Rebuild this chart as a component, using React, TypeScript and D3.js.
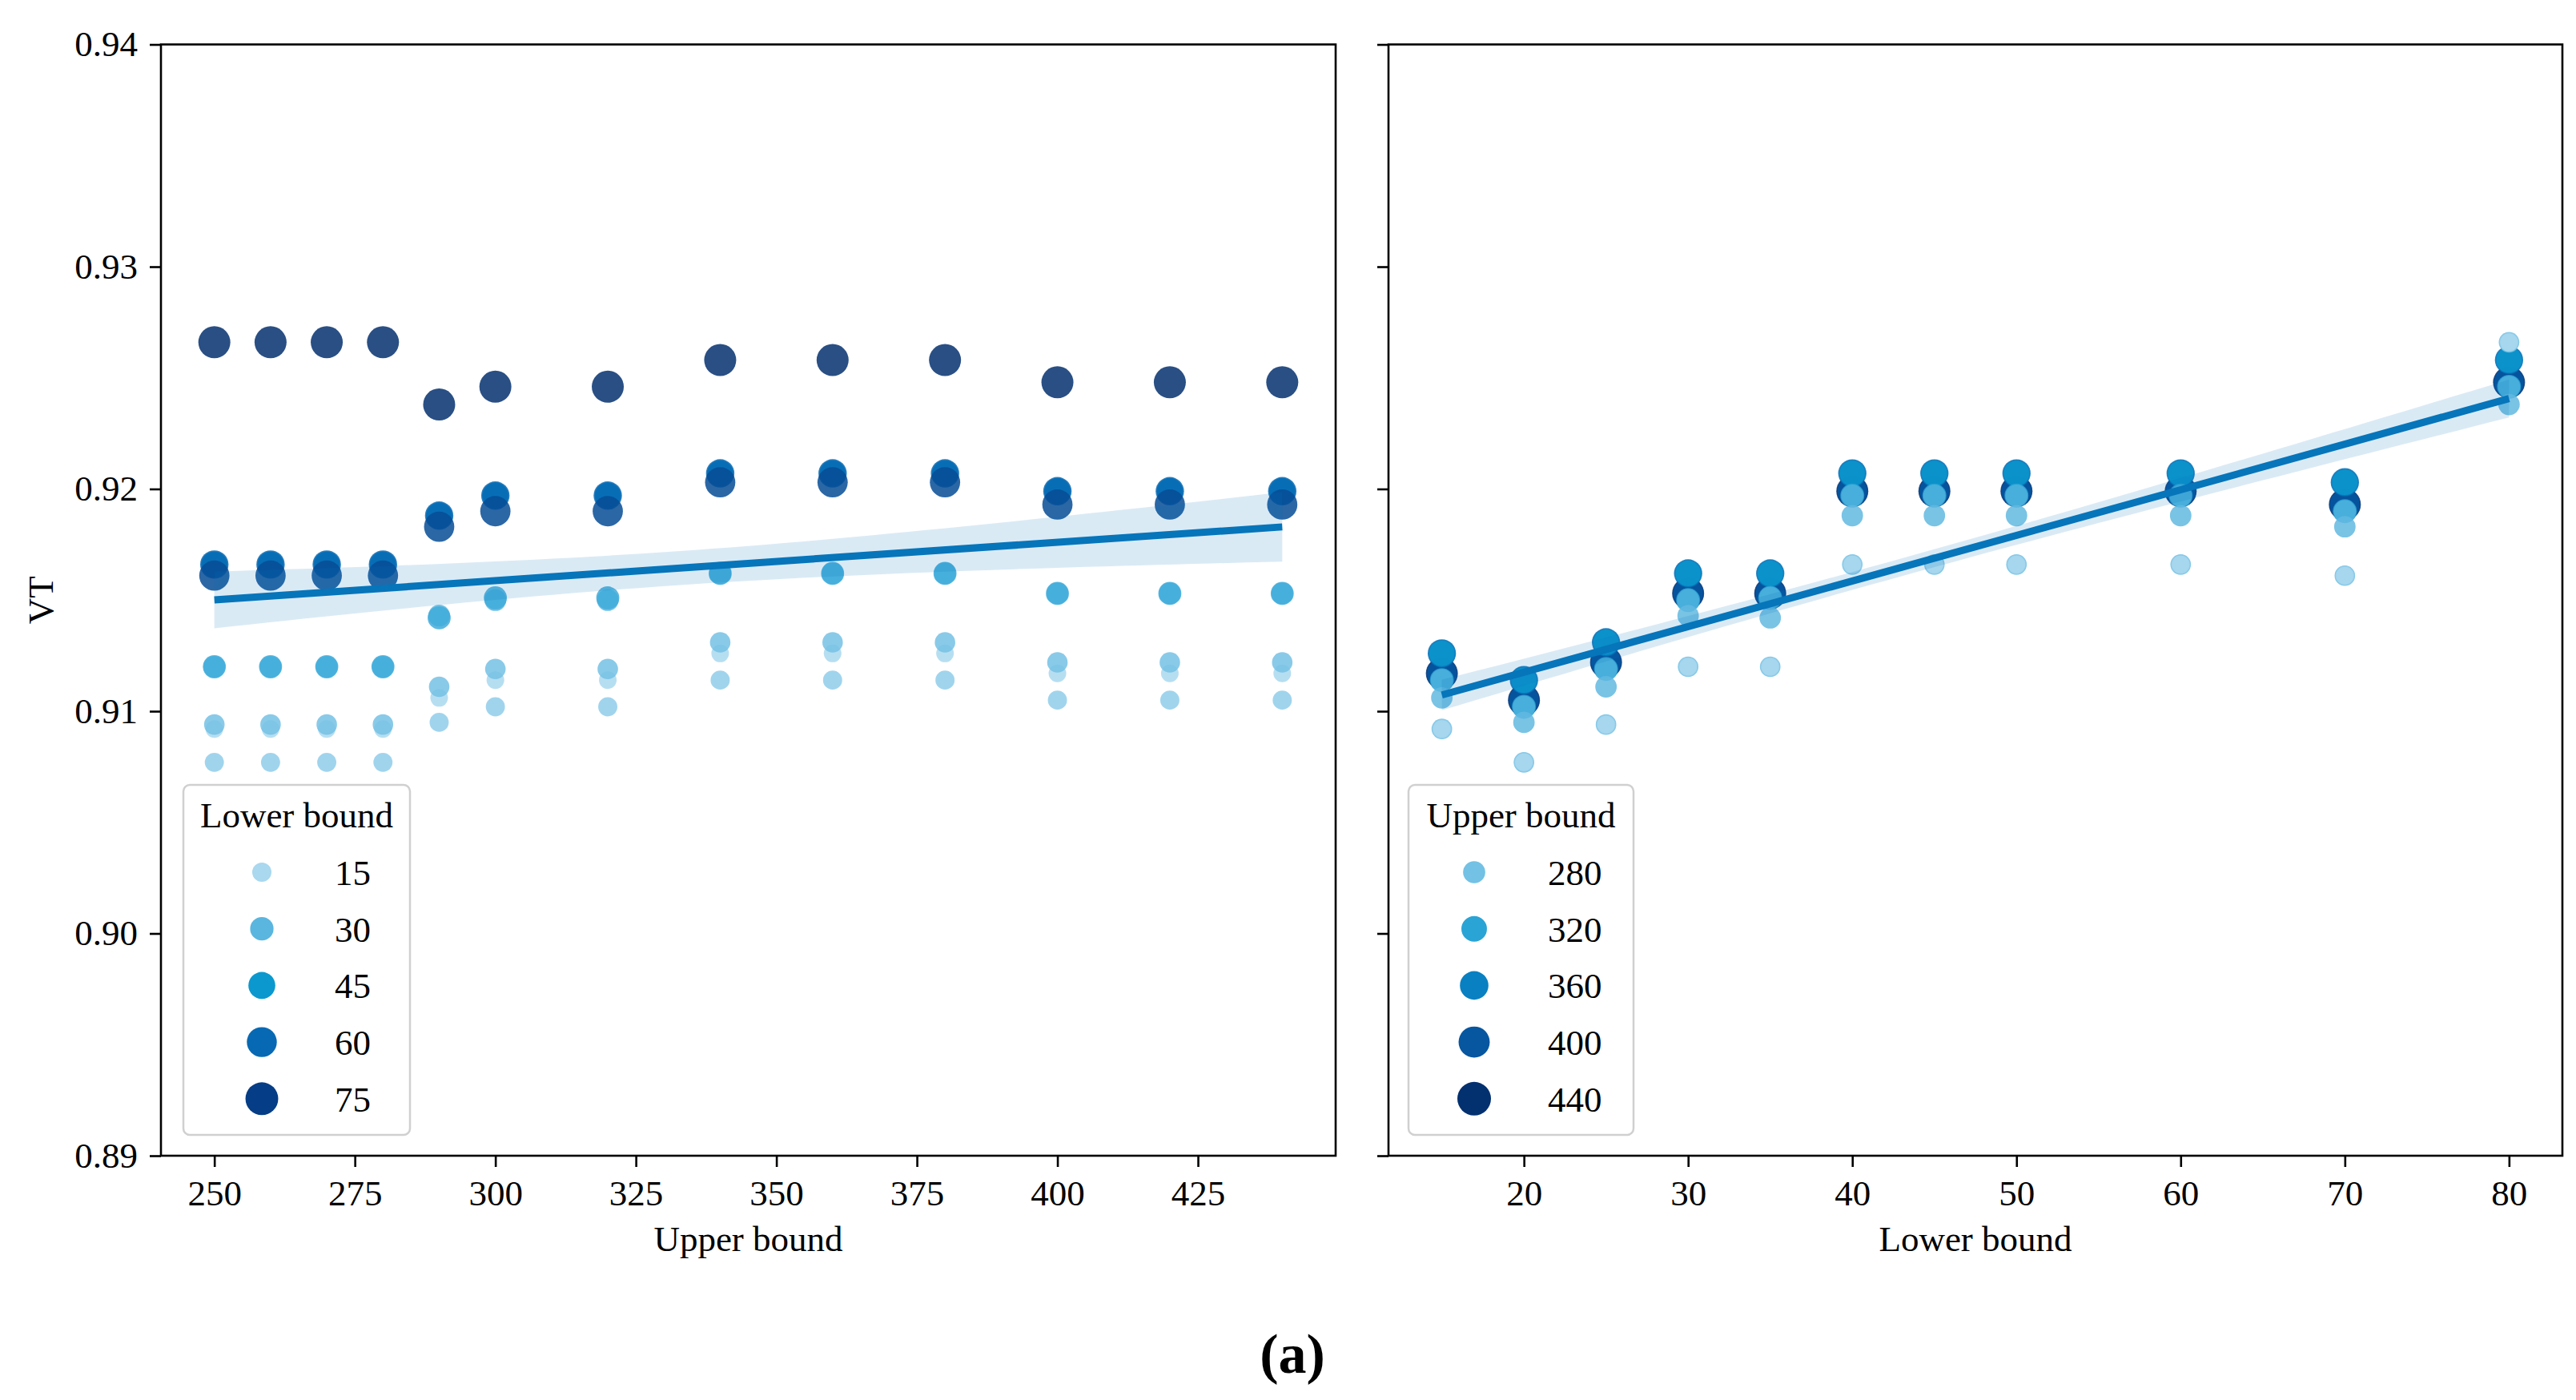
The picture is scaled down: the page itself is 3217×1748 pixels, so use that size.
import React, { useEffect, useRef } from 'react';
import * as d3 from 'd3';

// grid of runs: every lower bound was tried with every upper bound
const lowerBounds = [15, 20, 25, 30, 35, 40, 45, 50, 60, 70, 80];
const upperBounds = [250, 260, 270, 280, 290, 300, 320, 340, 360, 380, 400, 420, 440];

// VT, one row per lower bound, columns follow upperBounds
const vtRows: number[][] = [
  [0.9092, 0.9092, 0.9092, 0.9092, 0.9106, 0.9114, 0.9114, 0.9126, 0.9126, 0.9126, 0.9117, 0.9117, 0.9117],
  [0.9077, 0.9077, 0.9077, 0.9077, 0.9095, 0.9102, 0.9102, 0.9114, 0.9114, 0.9114, 0.9105, 0.9105, 0.9105],
  [0.9094, 0.9094, 0.9094, 0.9094, 0.9111, 0.9119, 0.9119, 0.9131, 0.9131, 0.9131, 0.9122, 0.9122, 0.9122],
  [0.9120, 0.9120, 0.9120, 0.9120, 0.9143, 0.9150, 0.9150, 0.9162, 0.9162, 0.9162, 0.9153, 0.9153, 0.9153],
  [0.9120, 0.9120, 0.9120, 0.9120, 0.9142, 0.9151, 0.9151, 0.9162, 0.9162, 0.9162, 0.9153, 0.9153, 0.9153],
  [0.9166, 0.9166, 0.9166, 0.9166, 0.9188, 0.9197, 0.9197, 0.9207, 0.9207, 0.9207, 0.9199, 0.9199, 0.9199],
  [0.9166, 0.9166, 0.9166, 0.9166, 0.9188, 0.9197, 0.9197, 0.9207, 0.9207, 0.9207, 0.9199, 0.9199, 0.9199],
  [0.9166, 0.9166, 0.9166, 0.9166, 0.9188, 0.9197, 0.9197, 0.9207, 0.9207, 0.9207, 0.9199, 0.9199, 0.9199],
  [0.9166, 0.9166, 0.9166, 0.9166, 0.9188, 0.9197, 0.9197, 0.9207, 0.9207, 0.9207, 0.9199, 0.9199, 0.9199],
  [0.9161, 0.9161, 0.9161, 0.9161, 0.9183, 0.9190, 0.9190, 0.9203, 0.9203, 0.9203, 0.9193, 0.9193, 0.9193],
  [0.9266, 0.9266, 0.9266, 0.9266, 0.9238, 0.9246, 0.9246, 0.9258, 0.9258, 0.9258, 0.9248, 0.9248, 0.9248],
];

const yTicks = [0.89, 0.90, 0.91, 0.92, 0.93, 0.94];
const upperTicks = [250, 275, 300, 325, 350, 375, 400, 425];
const lowerTicks = [20, 30, 40, 50, 60, 70, 80];
const lowerLegend = [15, 30, 45, 60, 75];
const upperLegend = [280, 320, 360, 400, 440];

interface Run {
  lower: number;
  upper: number;
  vt: number;
}

const FONT = '"Liberation Serif", "Times New Roman", serif';
const LINE = '#0675ba';

// light blue -> navy, positions along the hue range
const rampStops = [0, 0.23, 0.46, 0.69, 0.92, 1];
const rampColors = ['#a9d8ef', '#5ab6df', '#0b98cf', '#0769b3', '#053e87', '#03306f'];

function fit(xs: number[], ys: number[]) {
  const n = xs.length;
  const mx = d3.mean(xs)!;
  const my = d3.mean(ys)!;
  let sxx = 0;
  let sxy = 0;
  xs.forEach((x, i) => {
    sxx += (x - mx) ** 2;
    sxy += (x - mx) * (ys[i] - my);
  });
  const slope = sxy / sxx;
  const icpt = my - slope * mx;
  let sse = 0;
  xs.forEach((x, i) => {
    sse += (ys[i] - (icpt + slope * x)) ** 2;
  });
  const s = Math.sqrt(sse / (n - 2));
  const t = 1.977;
  return {
    predict: (x: number) => icpt + slope * x,
    half: (x: number) => t * s * Math.sqrt(1 / n + (x - mx) ** 2 / sxx),
  };
}

export default function App() {
  const svgRef = useRef<SVGSVGElement>(null);

  useEffect(() => {
    if (!svgRef.current) return;
    const svg = d3.select(svgRef.current);
    svg.selectAll('*').remove();

    const runs: Run[] = [];
    // later upper bounds first, so the mid-range ones sit on top
    for (let j = upperBounds.length - 1; j >= 0; j--) {
      lowerBounds.forEach((lo, i) => {
        runs.push({ lower: lo, upper: upperBounds[j], vt: vtRows[i][j] });
      });
    }

    const top = 55.5;
    const bottom = 1443;
    const y = d3.scaleLinear().domain([0.89, 0.94]).range([bottom, top]);

    const panels = [
      {
        x0: 201, x1: 1668,
        domain: [240.5, 449.5],
        ticks: upperTicks,
        xKey: (d: Run) => d.upper,
        hueKey: (d: Run) => d.lower,
        hueRange: [15, 80],
        xs: upperBounds,
        xTitle: 'Upper bound',
        legTitle: 'Lower bound',
        legVals: lowerLegend,
        legBox: [229, 512],
        yLabels: true,
      },
      {
        x0: 1734, x1: 3200,
        domain: [11.75, 83.25],
        ticks: lowerTicks,
        xKey: (d: Run) => d.lower,
        hueKey: (d: Run) => d.upper,
        hueRange: [250, 440],
        xs: lowerBounds,
        xTitle: 'Lower bound',
        legTitle: 'Upper bound',
        legVals: upperLegend,
        legBox: [1759, 2040],
        yLabels: false,
      },
    ];

    panels.forEach(p => {
      const x = d3.scaleLinear().domain(p.domain).range([p.x0, p.x1]);
      const [h0, h1] = p.hueRange;
      const color = d3.scaleLinear<string>()
        .domain(rampStops.map(t => h0 + t * (h1 - h0)))
        .range(rampColors)
        .interpolate(d3.interpolateRgb);
      const area = d3.scaleLinear().domain([h0, h1]).range([121, 400]);
      const radius = (v: number) => Math.sqrt(area(v));

      const g = svg.append('g');

      // points
      g.selectAll('circle.pt')
        .data(runs)
        .enter()
        .append('circle')
        .attr('class', 'pt')
        .attr('cx', d => x(p.xKey(d)))
        .attr('cy', d => y(d.vt))
        .attr('r', d => radius(p.hueKey(d)))
        .attr('fill', d => color(p.hueKey(d)))
        .attr('fill-opacity', 0.85);

      // regression with 95% band
      const reg = fit(runs.map(p.xKey), runs.map(d => d.vt));
      const [xmin, xmax] = d3.extent(p.xs) as [number, number];
      const samples = d3.range(0, 61).map(i => xmin + (i / 60) * (xmax - xmin));
      g.append('path')
        .attr('d', d3.area<number>()
          .x(v => x(v))
          .y0(v => y(reg.predict(v) - reg.half(v)))
          .y1(v => y(reg.predict(v) + reg.half(v)))(samples)!)
        .attr('fill', LINE)
        .attr('fill-opacity', 0.15);
      g.append('line')
        .attr('x1', x(xmin))
        .attr('x2', x(xmax))
        .attr('y1', y(reg.predict(xmin)))
        .attr('y2', y(reg.predict(xmax)))
        .attr('stroke', LINE)
        .attr('stroke-width', 9);

      // axes
      const xAxis = g.append('g')
        .attr('transform', `translate(0,${bottom})`)
        .call(d3.axisBottom(x).tickValues(p.ticks).tickSize(14).tickPadding(16).tickFormat(d3.format('d')));
      const yAxis = g.append('g')
        .attr('transform', `translate(${p.x0},0)`)
        .call(d3.axisLeft(y).tickValues(yTicks).tickSize(14).tickPadding(15)
          .tickFormat(p.yLabels ? d3.format('.2f') : () => ''));
      [xAxis, yAxis].forEach(a => {
        a.select('.domain').remove();
        a.selectAll('line').attr('stroke', '#000').attr('stroke-width', 2.6);
        a.selectAll('text')
          .style('font-family', FONT)
          .style('font-size', '45px')
          .attr('fill', '#000');
      });

      g.append('rect')
        .attr('x', p.x0)
        .attr('y', top)
        .attr('width', p.x1 - p.x0)
        .attr('height', bottom - top)
        .attr('fill', 'none')
        .attr('stroke', '#000')
        .attr('stroke-width', 2.6);

      g.append('text')
        .attr('x', (p.x0 + p.x1) / 2)
        .attr('y', 1562)
        .attr('text-anchor', 'middle')
        .style('font-family', FONT)
        .style('font-size', '45px')
        .text(p.xTitle);

      // legend
      const [lx0, lx1] = p.legBox;
      const leg = g.append('g');
      leg.append('rect')
        .attr('x', lx0)
        .attr('y', 980)
        .attr('width', lx1 - lx0)
        .attr('height', 437)
        .attr('rx', 8)
        .attr('fill', '#fff')
        .attr('fill-opacity', 0.8)
        .attr('stroke', '#d0d0d0')
        .attr('stroke-width', 2.5);
      leg.append('text')
        .attr('x', (lx0 + lx1) / 2)
        .attr('y', 1033)
        .attr('text-anchor', 'middle')
        .style('font-family', FONT)
        .style('font-size', '45px')
        .text(p.legTitle);
      const mx = p.yLabels ? lx0 + 98 : lx0 + 82;
      const tx = p.yLabels ? lx0 + 189 : lx0 + 174;
      p.legVals.forEach((v, i) => {
        const cy = 1089 + i * 70.7;
        leg.append('circle')
          .attr('cx', mx)
          .attr('cy', cy)
          .attr('r', radius(v) + 1)
          .attr('fill', color(v));
        leg.append('text')
          .attr('x', tx)
          .attr('y', cy + 16)
          .style('font-family', FONT)
          .style('font-size', '45px')
          .text(String(v));
      });
    });

    svg.append('text')
      .attr('transform', `translate(66,${(top + bottom) / 2}) rotate(-90)`)
      .attr('text-anchor', 'middle')
      .style('font-family', FONT)
      .style('font-size', '45px')
      .text('VT');

    svg.append('text')
      .attr('x', 1614)
      .attr('y', 1714)
      .attr('text-anchor', 'middle')
      .style('font-family', FONT)
      .style('font-size', '70px')
      .style('font-weight', 'bold')
      .text('(a)');
  }, []);

  return (
    <svg
      ref={svgRef}
      width={3217}
      height={1748}
      style={{ position: 'absolute', left: 0, top: 0, background: '#fff' }}
    />
  );
}
